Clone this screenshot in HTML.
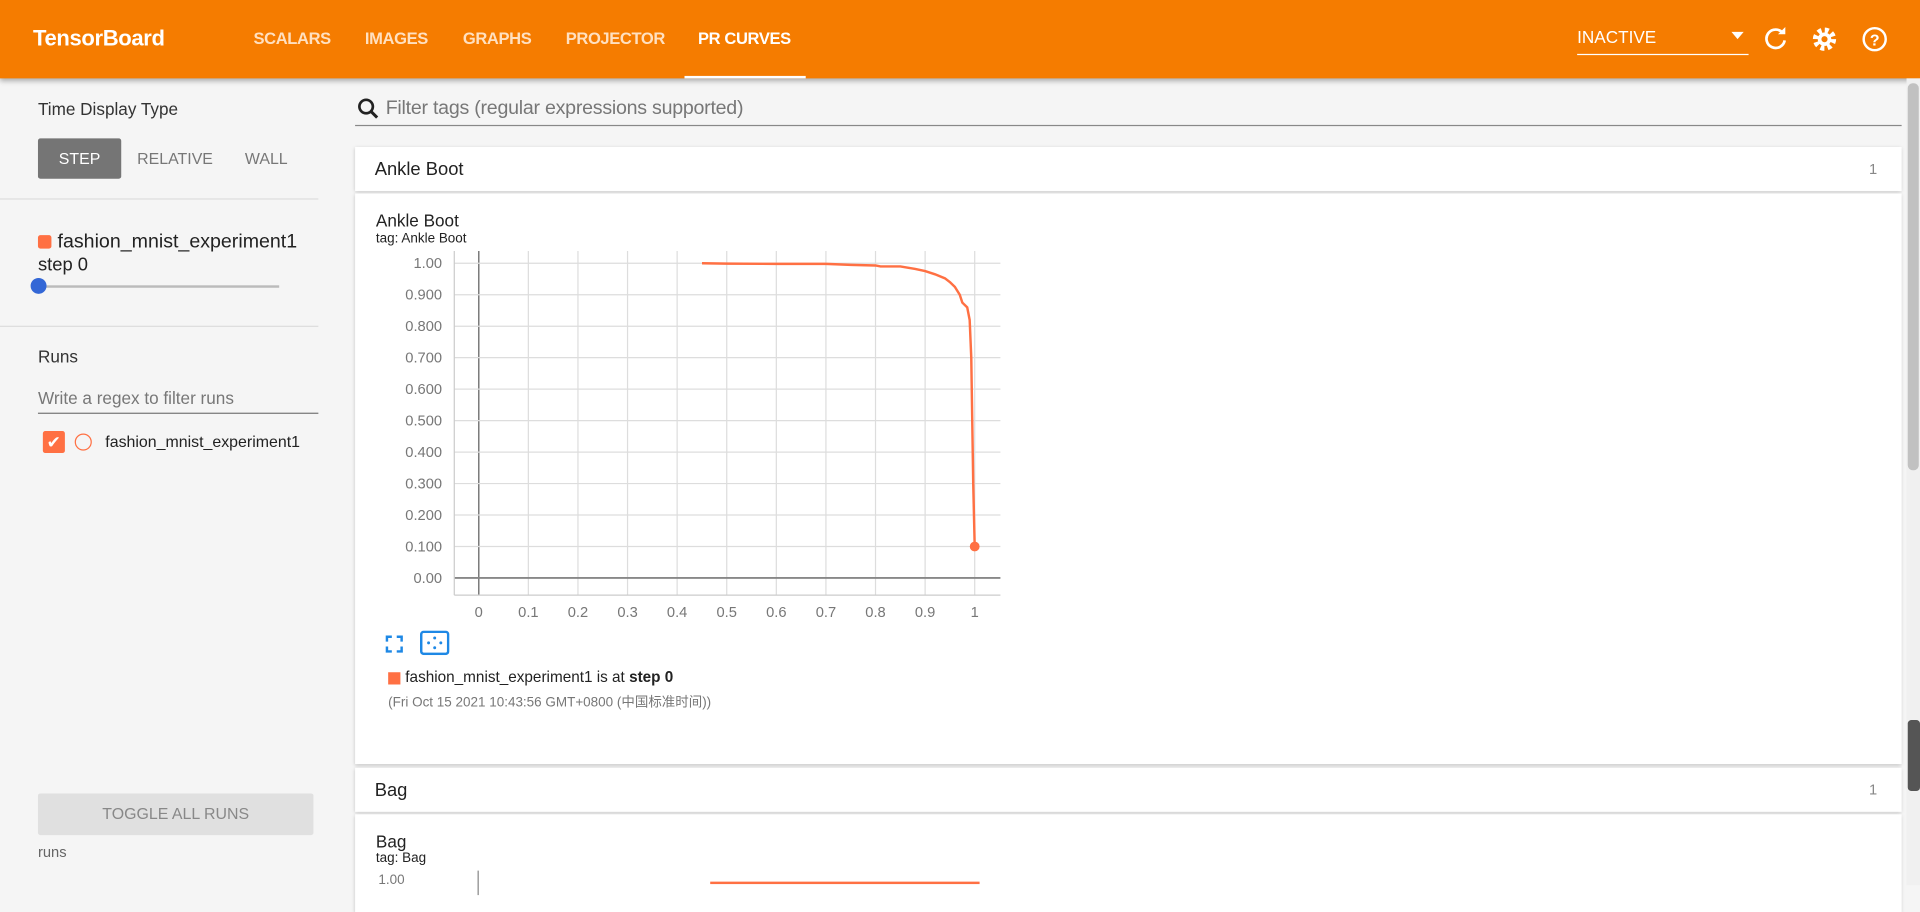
<!DOCTYPE html>
<html><head><meta charset="utf-8">
<style>
html,body{margin:0;padding:0;width:1920px;height:885px;overflow:hidden;background:#f5f5f5;font-family:"Liberation Sans","Noto Sans CJK SC",sans-serif;}
#wrap{position:absolute;left:0;top:0;width:1568px;height:723px;transform:scale(1.22449);transform-origin:0 0;background:#f5f5f5;}
.abs{position:absolute;}
#hdr{left:0;top:0;width:1568px;height:64px;background:#f57c00;box-shadow:0 2px 4px rgba(0,0,0,.3);color:#fff;}
.nav{position:absolute;top:24px;font-size:13.5px;font-weight:bold;color:#ffe0c0;letter-spacing:-0.3px;}
.side-t{font-size:14px;color:#333;}
.card{background:#fff;box-shadow:0 1px 3px rgba(0,0,0,.2);}
</style></head><body>
<div id="wrap">
<div id="hdr" class="abs">
  <div class="abs" style="left:27px;top:21px;font-size:18px;font-weight:bold;letter-spacing:-0.3px">TensorBoard</div>
  <div class="nav" style="left:207px">SCALARS</div>
  <div class="nav" style="left:298px">IMAGES</div>
  <div class="nav" style="left:378px">GRAPHS</div>
  <div class="nav" style="left:462px">PROJECTOR</div>
  <div class="nav" style="left:570px;color:#fff">PR CURVES</div>
  <div class="abs" style="left:559px;top:62px;width:99px;height:2px;background:#fff"></div>
  <div class="abs" style="left:1288px;top:22px;width:140px;height:22px;border-bottom:1px solid #fff;font-size:14px">INACTIVE<span style="position:absolute;right:4px;top:4px;border:5px solid transparent;border-top:6px solid #fff"></span></div>
  <svg class="abs" style="left:1439px;top:21px" width="22" height="22"><path d="M17 6A7.5 7.5 0 1 0 18.5 12" fill="none" stroke="#fff" stroke-width="2.2"/><path d="M13 5h6V-1z" fill="#fff" transform="translate(0,2)"/></svg>
  <svg class="abs" style="left:1479px;top:21px" width="22" height="22"><circle cx="11" cy="11" r="7" fill="none" stroke="#fff" stroke-width="5" stroke-dasharray="3 2.5"/><circle cx="11" cy="11" r="5.5" fill="#fff"/><circle cx="11" cy="11" r="2.5" fill="#f57c00"/></svg>
  <svg class="abs" style="left:1519px;top:20px" width="24" height="24"><circle cx="12" cy="12" r="9" fill="none" stroke="#fff" stroke-width="2"/><text x="12" y="17" text-anchor="middle" font-size="13" font-weight="bold" fill="#fff" font-family="Liberation Sans">?</text></svg>
</div>

<!-- sidebar -->
<div class="abs side-t" style="left:31px;top:81px">Time Display Type</div>
<div class="abs" style="left:31px;top:113px;width:68px;height:33px;background:#757575;color:#fff;font-size:13px;text-align:center;line-height:33px;border-radius:2px">STEP</div>
<div class="abs" style="left:112px;top:122px;font-size:13px;color:#777">RELATIVE</div>
<div class="abs" style="left:200px;top:122px;font-size:13px;color:#777">WALL</div>
<div class="abs" style="left:0;top:162px;width:260px;height:1px;background:#ddd"></div>
<div class="abs" style="left:31px;top:192px;width:11px;height:11px;background:#ff7043;border-radius:2px"></div>
<div class="abs" style="left:47px;top:189px;font-size:16px;color:#222">fashion_mnist_experiment1</div>
<div class="abs" style="left:31px;top:208px;font-size:15px;color:#222">step 0</div>
<div class="abs" style="left:31px;top:233px;width:197px;height:2px;background:#bbb"></div>
<div class="abs" style="left:25px;top:227px;width:13px;height:13px;background:#3367d6;border-radius:50%"></div>
<div class="abs" style="left:0;top:266px;width:260px;height:1px;background:#ddd"></div>
<div class="abs side-t" style="left:31px;top:283px">Runs</div>
<div class="abs" style="left:31px;top:317px;width:229px;height:20px;border-bottom:1px solid #777;font-size:14px;color:#777">Write a regex to filter runs</div>
<div class="abs" style="left:35px;top:352px;width:18px;height:18px;background:#ff7043;border-radius:2px;color:#fff;font-size:14px;text-align:center;line-height:18px">✔</div>
<div class="abs" style="left:61px;top:354px;width:12px;height:12px;border:1.5px solid #ff7043;border-radius:50%"></div>
<div class="abs" style="left:86px;top:353px;font-size:13px;color:#222">fashion_mnist_experiment1</div>
<div class="abs" style="left:31px;top:648px;width:225px;height:34px;background:#e0e0e0;color:#888;font-size:13px;text-align:center;line-height:34px;border-radius:2px">TOGGLE ALL RUNS</div>
<div class="abs" style="left:31px;top:689px;font-size:12px;color:#666">runs</div>

<!-- filter -->
<svg class="abs" style="left:291px;top:79px" width="20" height="20"><circle cx="8" cy="8" r="5.5" fill="none" stroke="#222" stroke-width="2.2"/><path d="M12 12l5 5" stroke="#222" stroke-width="2.5"/></svg>
<div class="abs" style="left:315px;top:80px;font-size:16px;color:#777;letter-spacing:-0.2px">Filter tags (regular expressions supported)</div>
<div class="abs" style="left:290px;top:102px;width:1263px;height:1px;background:#888"></div>

<!-- cards -->
<div class="abs card" style="left:290px;top:120px;width:1263px;height:36px">
  <div class="abs" style="left:16px;top:10px;font-size:15px;color:#222">Ankle Boot</div>
  <div class="abs" style="right:20px;top:11px;font-size:12px;color:#888">1</div>
</div>
<div class="abs card" style="left:290px;top:158px;width:1263px;height:466px">
  <div class="abs" style="left:17px;top:14px;font-size:14px;color:#222">Ankle Boot</div>
  <div class="abs" style="left:17px;top:31px;font-size:11px;color:#222">tag: Ankle Boot</div>
  <svg class="abs" style="left:24px;top:360px" width="16" height="16"><path d="M2 6V2h4M10 2h4v4M14 10v4h-4M6 14H2v-4" fill="none" stroke="#1e88e5" stroke-width="2"/></svg>
  <svg class="abs" style="left:53px;top:357px" width="24" height="20"><rect x="1" y="1" width="22" height="18" rx="2" fill="none" stroke="#1e88e5" stroke-width="2"/><circle cx="7" cy="10" r="1.2" fill="#1e88e5"/><circle cx="17" cy="10" r="1.2" fill="#1e88e5"/><circle cx="12" cy="6" r="1.2" fill="#1e88e5"/><circle cx="12" cy="14" r="1.2" fill="#1e88e5"/></svg>
  <div class="abs" style="left:27px;top:391px;width:10px;height:10px;background:#ff7043"></div>
  <div class="abs" style="left:41px;top:388px;font-size:12.5px;color:#222">fashion_mnist_experiment1 is at <b>step 0</b></div>
  <div class="abs" style="left:27px;top:407px;font-size:11px;color:#777">(Fri Oct 15 2021 10:43:56 GMT+0800 (中国标准时间))</div>
</div>
<div class="abs card" style="left:290px;top:627px;width:1263px;height:36px">
  <div class="abs" style="left:16px;top:10px;font-size:15px;color:#222">Bag</div>
  <div class="abs" style="right:20px;top:11px;font-size:12px;color:#888">1</div>
</div>
<div class="abs card" style="left:290px;top:665px;width:1263px;height:80px;overflow:hidden">
  <div class="abs" style="left:17px;top:14px;font-size:14px;color:#222">Bag</div>
  <div class="abs" style="left:17px;top:30px;font-size:11px;color:#222">tag: Bag</div>
  <div class="abs" style="left:19px;top:48px;font-size:11px;color:#777">1.00</div>
  <div class="abs" style="left:100px;top:46px;width:1px;height:20px;background:#888"></div>
  <div class="abs" style="left:290px;top:55px;width:220px;height:2px;background:#ff7043"></div>
</div>

<svg id="chart" class="abs" style="left:290px;top:158px" width="540" height="360"></svg>

<!-- scrollbar -->
<div class="abs" style="left:1557px;top:64px;width:11px;height:659px;background:#f0f0f0"></div>
<div class="abs" style="left:1558px;top:68px;width:9px;height:316px;background:#c1c1c1;border-radius:4px"></div>
<div class="abs" style="left:1558px;top:588px;width:10px;height:58px;background:#555;border-radius:3px"></div>
</div>

<script>
const recall = [0.45,0.5,0.6,0.7,0.75,0.8,0.81,0.85,0.88,0.9,0.92,0.94,0.95,0.96,0.97,0.975,0.985,0.99,0.993,0.995,0.997,1.0];
const precision = [1.0,0.999,0.998,0.998,0.995,0.993,0.99,0.99,0.982,0.975,0.965,0.952,0.94,0.925,0.9,0.875,0.86,0.82,0.7,0.5,0.3,0.1];
const xTicks = [0,0.1,0.2,0.3,0.4,0.5,0.6,0.7,0.8,0.9,1];
const xTickLabels = ["0","0.1","0.2","0.3","0.4","0.5","0.6","0.7","0.8","0.9","1"];
const yTicks = [0,0.1,0.2,0.3,0.4,0.5,0.6,0.7,0.8,0.9,1];
const yTickLabels = ["0.00","0.100","0.200","0.300","0.400","0.500","0.600","0.700","0.800","0.900","1.00"];

const svg = document.getElementById('chart');
const NS = 'http://www.w3.org/2000/svg';
const X0 = 101, X1 = 506, Y0 = 314, Y1 = 57, L = 81, R = 527, T = 47, B = 328;
const sx = v => X0 + v * (X1 - X0);
const sy = v => Y0 + v * (Y1 - Y0);
function mk(tag, attrs){ const e = document.createElementNS(NS, tag); for (const k in attrs) e.setAttribute(k, attrs[k]); svg.appendChild(e); return e; }

xTicks.forEach((t, i) => {
  const g = mk('line', {x1: sx(t), x2: sx(t), y1: T, y2: B, stroke: t === 0 ? '#777' : '#ddd', 'stroke-width': t === 0 ? 1.2 : 1});
  
  
  const tx = mk('text', {x: sx(t), y: B + 18, 'text-anchor': 'middle', 'font-size': 12, fill: '#777', 'font-family': 'Liberation Sans'});
  tx.textContent = xTickLabels[i];
  
  
});
yTicks.forEach((t, i) => {
  const g = mk('line', {x1: L, x2: R, y1: sy(t), y2: sy(t), stroke: t === 0 ? '#888' : '#ddd', 'stroke-width': t === 0 ? 1.5 : 1});
  
  
  const tx = mk('text', {x: 71, y: sy(t) + 4, 'text-anchor': 'end', 'font-size': 12, fill: '#777', 'font-family': 'Liberation Sans'});
  tx.textContent = yTickLabels[i];
  
  
});
const ax = mk('line', {x1: L, x2: R, y1: B, y2: B, stroke: '#ccc'});


const ay = mk('line', {x1: L, x2: L, y1: T, y2: B, stroke: '#ccc'});



const d = recall.map((r, i) => (i ? 'L' : 'M') + sx(r).toFixed(1) + ' ' + sy(precision[i]).toFixed(1)).join(' ');
const line = mk('path', {d: d, fill: 'none', stroke: '#ff7043', 'stroke-width': 2});


const n = recall.length - 1;
const dot = mk('circle', {cx: sx(recall[n]), cy: sy(precision[n]), r: 4, fill: '#ff7043'});


</script>
</body></html>
